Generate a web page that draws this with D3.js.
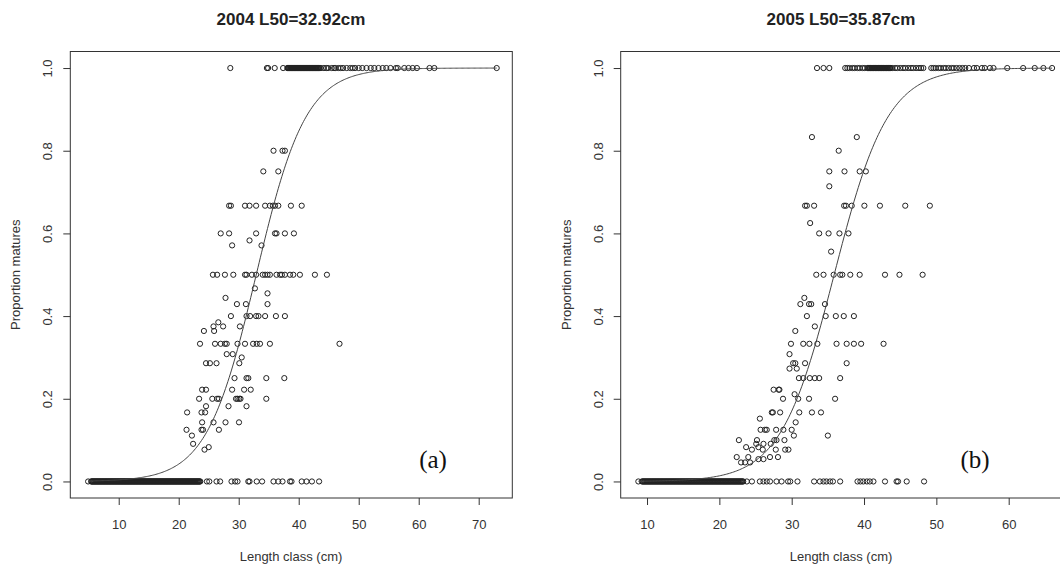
<!DOCTYPE html>
<head>
  <meta charset="utf-8">
  <script src="https://cdn.jsdelivr.net/npm/d3@7/dist/d3.min.js"></script>
  <style>
    body { margin: 0; background: #fff; }
    svg { display: block; font-family: "Liberation Sans", Arial, sans-serif; }
    .tick text { fill: #333; font-size: 13px; }
    .tick line { stroke: #333; }
  </style>
</head>
<body>
<div id="chart"></div>
<script>

  var titles = ["2004 L50=32.92cm", "2005 L50=35.87cm"]
    , tags = ["(a)", "(b)"]
    , yTicks = [0, 0.2, 0.4, 0.6, 0.8, 1.0]
    , xTicks04 = [10, 20, 30, 40, 50, 60, 70]
    , xTicks05 = [10, 20, 30, 40, 50, 60]
    , l50 = [32.92, 35.87]
    , slope = [0.242, 0.27]
    , curveRange04 = [5, 73]
    , curveRange05 = [8.8, 66]

  // 2004 - lengths (cm) of classes all mature (1.0)
  var mature04 = [28.6, 34.7, 34.9, 36.0, 37.4,
    38.1, 38.2, 38.3, 38.4, 38.5, 38.6, 38.7, 38.8, 38.9, 39.0, 39.1, 39.2, 39.3, 39.4, 39.5, 39.6, 39.7, 39.8, 39.9,
    40.0, 40.1, 40.2, 40.3, 40.4, 40.5, 40.6, 40.7, 40.8, 40.9, 41.0, 41.1, 41.2, 41.3, 41.4, 41.5, 41.6, 41.7,
    41.8, 41.9, 42.0, 42.1, 42.2, 42.3, 42.4, 42.5, 42.6, 42.7, 42.8, 42.9, 43.0, 43.1, 43.2, 43.3, 43.5, 43.7,
    44.2, 44.6, 44.9, 45.5, 45.9, 46.1, 46.6, 47.0, 47.4, 48.0, 48.6, 49.0, 49.4, 50.0, 50.6, 51.3, 52.0,
    52.6, 53.3, 54.0, 54.6, 55.3, 56.2, 56.5, 57.6, 58.3, 59.0, 59.7, 61.8, 62.6, 73.0]

  // 2004 - classes all immature (0.0)
  var immature04 = [4.9, 5.4, 5.5, 5.6, 5.7, 5.8, 5.9,
    6.0, 6.1, 6.2, 6.3, 6.4, 6.5, 6.6, 6.7, 6.8, 6.9, 7.0, 7.1, 7.2, 7.3, 7.4, 7.5, 7.6, 7.7, 7.8, 7.9,
    8.0, 8.1, 8.2, 8.3, 8.4, 8.5, 8.6, 8.7, 8.8, 8.9, 9.0, 9.1, 9.2, 9.3, 9.4, 9.5, 9.6, 9.7, 9.8, 9.9,
    10.0, 10.1, 10.2, 10.3, 10.4, 10.5, 10.6, 10.7, 10.8, 10.9, 11.0, 11.1, 11.2, 11.3, 11.4, 11.5, 11.6, 11.7, 11.8, 11.9,
    12.0, 12.1, 12.2, 12.3, 12.4, 12.5, 12.6, 12.7, 12.8, 12.9, 13.0, 13.1, 13.2, 13.3, 13.4, 13.5, 13.6, 13.7, 13.8, 13.9,
    14.0, 14.1, 14.2, 14.3, 14.4, 14.5, 14.6, 14.7, 14.8, 14.9, 15.0, 15.1, 15.2, 15.3, 15.4, 15.5, 15.6, 15.7, 15.8, 15.9,
    16.0, 16.1, 16.2, 16.3, 16.4, 16.5, 16.6, 16.7, 16.8, 16.9, 17.0, 17.1, 17.2, 17.3, 17.4, 17.5, 17.6, 17.7, 17.8, 17.9,
    18.0, 18.1, 18.2, 18.3, 18.4, 18.5, 18.6, 18.7, 18.8, 18.9, 19.0, 19.1, 19.2, 19.3, 19.4, 19.5, 19.6, 19.7, 19.8, 19.9,
    20.0, 20.1, 20.2, 20.3, 20.4, 20.5, 20.6, 20.7, 20.8, 20.9, 21.0, 21.1, 21.2, 21.3, 21.4, 21.5, 21.6, 21.7, 21.8, 21.9,
    22.0, 22.1, 22.2, 22.3, 22.4, 22.5, 22.6, 22.7, 22.8, 22.9, 23.0, 23.1, 23.2, 23.3, 23.4, 23.5, 23.6,
    24.7, 25.1, 26.3, 26.9, 28.8, 29.4, 29.8, 31.6, 31.8, 33.0, 33.9, 35.8, 36.6, 37.3, 38.55, 38.8,
    40.5, 41.3, 42.2, 43.4]

  // 2004 - [proportion, lengths]
  var mixed04 = [
    [0.8, [35.8, 37.3, 37.7]],
    [0.75, [34.1, 36.6]],
    [0.667, [28.4, 28.7, 31.05, 31.8, 32.9, 34.4, 35.2, 35.7, 36.05, 36.6, 38.7, 40.5]],
    [0.6, [27.0, 28.4, 32.9, 36.05, 36.3, 37.7, 39.2]],
    [0.583, [31.8]],
    [0.571, [28.9, 33.8]],
    [0.5, [25.7, 26.4, 27.7, 29.1, 31.05, 31.3, 32.2, 32.9, 34.0, 34.4, 34.8, 35.2, 36.3, 36.9, 37.2, 37.7,
      38.55, 39.1, 40.2, 42.7, 44.7]],
    [0.467, [32.7]],
    [0.455, [34.8]],
    [0.444, [27.8]],
    [0.429, [29.7, 31.2, 34.8]],
    [0.4, [28.7, 31.3, 31.9, 32.9, 33.3, 34.4, 36.2, 37.7]],
    [0.385, [26.6]],
    [0.375, [25.8, 27.4, 30.2]],
    [0.364, [24.2, 25.9]],
    [0.333, [23.55, 26.05, 27.0, 27.7, 28.0, 29.8, 31.05, 32.4, 33.0, 33.55, 35.2, 46.8]],
    [0.308, [28.0, 29.0]],
    [0.3, [30.5]],
    [0.286, [24.55, 25.2, 26.3, 30.1]],
    [0.25, [29.3, 31.3, 31.6, 34.6, 37.6]],
    [0.222, [23.9, 24.55, 28.9, 30.9, 32.0]],
    [0.2, [23.4, 25.6, 26.4, 26.7, 29.55, 29.8, 30.1, 30.3, 34.6]],
    [0.182, [24.55, 28.3, 31.3]],
    [0.167, [21.4, 23.8, 24.4]],
    [0.143, [23.9, 25.8, 27.8, 30.05]],
    [0.125, [21.3, 23.8, 24.05, 26.7]],
    [0.111, [22.2]],
    [0.091, [22.4]],
    [0.083, [25.0]],
    [0.077, [24.3]]
  ]

  // 2005
  var mature05 = [33.5, 34.4, 35.2, 37.4, 37.7, 38.0, 38.4, 38.7, 39.1, 39.4, 39.8, 40.1,
    40.5, 40.6, 40.7, 40.8, 40.9, 41.0, 41.1, 41.2, 41.3, 41.4, 41.5, 41.6, 41.7, 41.8, 41.9, 42.0, 42.1, 42.2,
    42.3, 42.4, 42.5, 42.6, 42.7, 42.8, 42.9, 43.0, 43.1, 43.2, 43.3, 43.4, 43.5, 43.6, 43.7, 43.9,
    44.3, 44.6, 45.0, 45.4, 45.7, 46.1, 46.5, 46.8, 47.2, 47.6, 47.9, 48.2,
    49.3, 49.6, 49.9, 50.3, 50.6, 51.0, 51.3, 51.7, 52.1, 52.4, 52.8, 53.2, 53.6, 54.0, 54.5, 55.2, 55.6,
    56.3, 56.7, 57.4, 57.9, 59.8, 62.0, 63.6, 64.8, 66.0]

  var immature05 = [8.8, 9.3, 9.4, 9.5, 9.6, 9.7, 9.8, 9.9,
    10.0, 10.1, 10.2, 10.3, 10.4, 10.5, 10.6, 10.7, 10.8, 10.9, 11.0, 11.1, 11.2, 11.3, 11.4, 11.5, 11.6, 11.7, 11.8, 11.9,
    12.0, 12.1, 12.2, 12.3, 12.4, 12.5, 12.6, 12.7, 12.8, 12.9, 13.0, 13.1, 13.2, 13.3, 13.4, 13.5, 13.6, 13.7, 13.8, 13.9,
    14.0, 14.1, 14.2, 14.3, 14.4, 14.5, 14.6, 14.7, 14.8, 14.9, 15.0, 15.1, 15.2, 15.3, 15.4, 15.5, 15.6, 15.7, 15.8, 15.9,
    16.0, 16.1, 16.2, 16.3, 16.4, 16.5, 16.6, 16.7, 16.8, 16.9, 17.0, 17.1, 17.2, 17.3, 17.4, 17.5, 17.6, 17.7, 17.8, 17.9,
    18.0, 18.1, 18.2, 18.3, 18.4, 18.5, 18.6, 18.7, 18.8, 18.9, 19.0, 19.1, 19.2, 19.3, 19.4, 19.5, 19.6, 19.7, 19.8, 19.9,
    20.0, 20.1, 20.2, 20.3, 20.4, 20.5, 20.6, 20.7, 20.8, 20.9, 21.0, 21.1, 21.2, 21.3, 21.4, 21.5, 21.6, 21.7, 21.8, 21.9,
    22.0, 22.1, 22.2, 22.3, 22.4, 22.5, 22.6, 22.7, 22.8, 22.9, 23.0, 23.1, 23.2, 23.3,
    23.8, 24.5, 25.6, 26.1, 26.55, 27.0, 27.9, 28.6, 29.5, 29.8, 30.8, 33.1, 33.9, 34.4, 34.8, 35.3, 35.7,
    36.7, 39.1, 39.5, 39.9, 40.4, 40.8, 41.3, 42.9, 44.5, 44.7, 45.9, 48.3]

  var mixed05 = [
    [0.833, [32.8, 39.0]],
    [0.8, [36.5]],
    [0.75, [35.2, 37.3, 39.4, 40.25]],
    [0.714, [35.2]],
    [0.667, [31.85, 32.1, 33.1, 37.25, 37.5, 38.3, 40.05, 42.2, 45.7, 49.1]],
    [0.625, [32.55]],
    [0.6, [33.8, 35.1, 36.6, 37.85]],
    [0.556, [35.45]],
    [0.5, [33.4, 34.4, 35.8, 36.7, 37.0, 38.1, 39.4, 42.9, 44.9, 48.1]],
    [0.444, [31.75]],
    [0.429, [31.2, 32.4, 32.7, 34.6]],
    [0.4, [32.1, 34.7, 36.1, 37.2, 38.6]],
    [0.375, [33.2]],
    [0.364, [30.5]],
    [0.333, [29.9, 31.6, 32.45, 33.55, 36.2, 37.6, 38.6, 39.6, 42.7]],
    [0.308, [29.7]],
    [0.286, [30.2, 30.5, 31.85, 37.6]],
    [0.273, [29.7, 30.7]],
    [0.25, [31.0, 31.6, 32.5, 33.2, 33.8, 36.7]],
    [0.222, [27.5, 28.2, 28.3]],
    [0.211, [30.4]],
    [0.2, [28.8, 30.9, 32.4, 36.0]],
    [0.167, [27.25, 27.4, 28.4, 31.05, 32.8, 34.05]],
    [0.152, [25.6]],
    [0.143, [30.55]],
    [0.125, [25.7, 26.3, 26.55, 27.85, 28.85, 30.0]],
    [0.111, [30.3, 35.0]],
    [0.1, [22.7, 25.2, 27.6, 27.9, 29.0]],
    [0.091, [25.1, 26.1, 27.1]],
    [0.083, [23.7, 25.4]],
    [0.077, [24.5, 26.0, 27.8, 29.1, 29.55]],
    [0.059, [22.4, 24.0, 27.0, 28.1]],
    [0.054, [25.4, 26.1]],
    [0.046, [23.0, 23.55, 24.25]]
  ]

  function toPoints(mature, immature, mixed) {
    var pts = []
    immature.forEach(function(l) { pts.push([l, 0]) })
    mature.forEach(function(l) { pts.push([l, 1]) })
    mixed.forEach(function(r) { r[1].forEach(function(l) { pts.push([l, r[0]]) }) })
    return pts
  }

  // the 2005 panel runs past the right edge of the picture, as in the source
  var panels = [
    { box: [70.3, 512.3], xDomain: [1.93, 75.6], xTicks: xTicks04, curve: curveRange04,
      points: toPoints(mature04, immature04, mixed04), titleX: 291, tagX: 433 },
    { box: [620.7, 1068], xDomain: [6.36, 68.2], xTicks: xTicks05, curve: curveRange05,
      points: toPoints(mature05, immature05, mixed05), titleX: 841, tagX: 975 }
  ]

  var width = 1060, height = 570
    , plotTop = 51.5, plotBottom = 498

  var svg = d3.select("#chart").append("svg")
      .attr("width", width)
      .attr("height", height)

  var y = d3.scaleLinear()
      .domain([-0.04, 1.04])
      .range([plotBottom, plotTop])

  panels.forEach(function(p, k) {

    var x = d3.scaleLinear()
        .domain(p.xDomain)
        .range(p.box)

    var g = svg.append("g")

    var cx = (p.box[0] + p.box[1]) / 2

    g.append("text")
        .attr("x", p.titleX)
        .attr("y", 25)
        .attr("text-anchor", "middle")
        .style("font-weight", "bold")
        .style("font-size", "17px")
        .style("fill", "#222")
        .text(titles[k])

    // points
    g.append("g").selectAll("circle")
        .data(p.points)
      .enter().append("circle")
        .attr("cx", function(d) { return x(d[0]) })
        .attr("cy", function(d) { return y(d[1]) })
        .attr("r", 2.6)
        .style("fill", "none")
        .style("stroke", "#222")
        .style("stroke-width", 1)

    // fitted logistic curve
    var xs = d3.range(p.curve[0], p.curve[1] + 0.01, 0.2)
    var line = d3.line()
        .x(function(d) { return x(d) })
        .y(function(d) { return y(1 / (1 + Math.exp(-slope[k] * (d - l50[k])))) })

    g.append("path")
        .datum(xs)
        .attr("d", line)
        .style("fill", "none")
        .style("stroke", "#444")
        .style("stroke-width", 1)

    // box
    g.append("rect")
        .attr("x", p.box[0])
        .attr("y", plotTop)
        .attr("width", p.box[1] - p.box[0])
        .attr("height", plotBottom - plotTop)
        .style("fill", "none")
        .style("stroke", "#333")
        .style("stroke-width", 1)

    var xAxis = g.append("g")
        .attr("transform", "translate(0," + plotBottom + ")")
        .call(d3.axisBottom(x).tickValues(p.xTicks).tickSize(7).tickPadding(15))
    xAxis.select(".domain").remove()

    var yAxis = g.append("g")
        .attr("transform", "translate(" + p.box[0] + ",0)")
        .call(d3.axisLeft(y).tickValues(yTicks).tickSize(7).tickFormat(d3.format(".1f")))
    yAxis.select(".domain").remove()
    yAxis.selectAll(".tick text")
        .attr("x", -18)
        .attr("y", 0)
        .attr("dy", 0)
        .attr("transform", "rotate(-90,-18,0)")
        .attr("text-anchor", "middle")

    g.append("text")
        .attr("x", p.titleX)
        .attr("y", 561)
        .attr("text-anchor", "middle")
        .style("font-size", "13px")
        .style("fill", "#333")
        .text("Length class (cm)")

    g.append("text")
        .attr("transform", "translate(" + (p.box[0] - 50) + "," + ((plotTop + plotBottom) / 2) + ") rotate(-90)")
        .attr("text-anchor", "middle")
        .style("font-size", "13px")
        .style("fill", "#333")
        .text("Proportion matures")

    g.append("text")
        .attr("x", p.tagX)
        .attr("y", 468)
        .attr("text-anchor", "middle")
        .style("font-family", "'Liberation Serif', 'DejaVu Serif', serif")
        .style("font-size", "25px")
        .style("fill", "#111")
        .text(tags[k])
  })

</script>
</body>
